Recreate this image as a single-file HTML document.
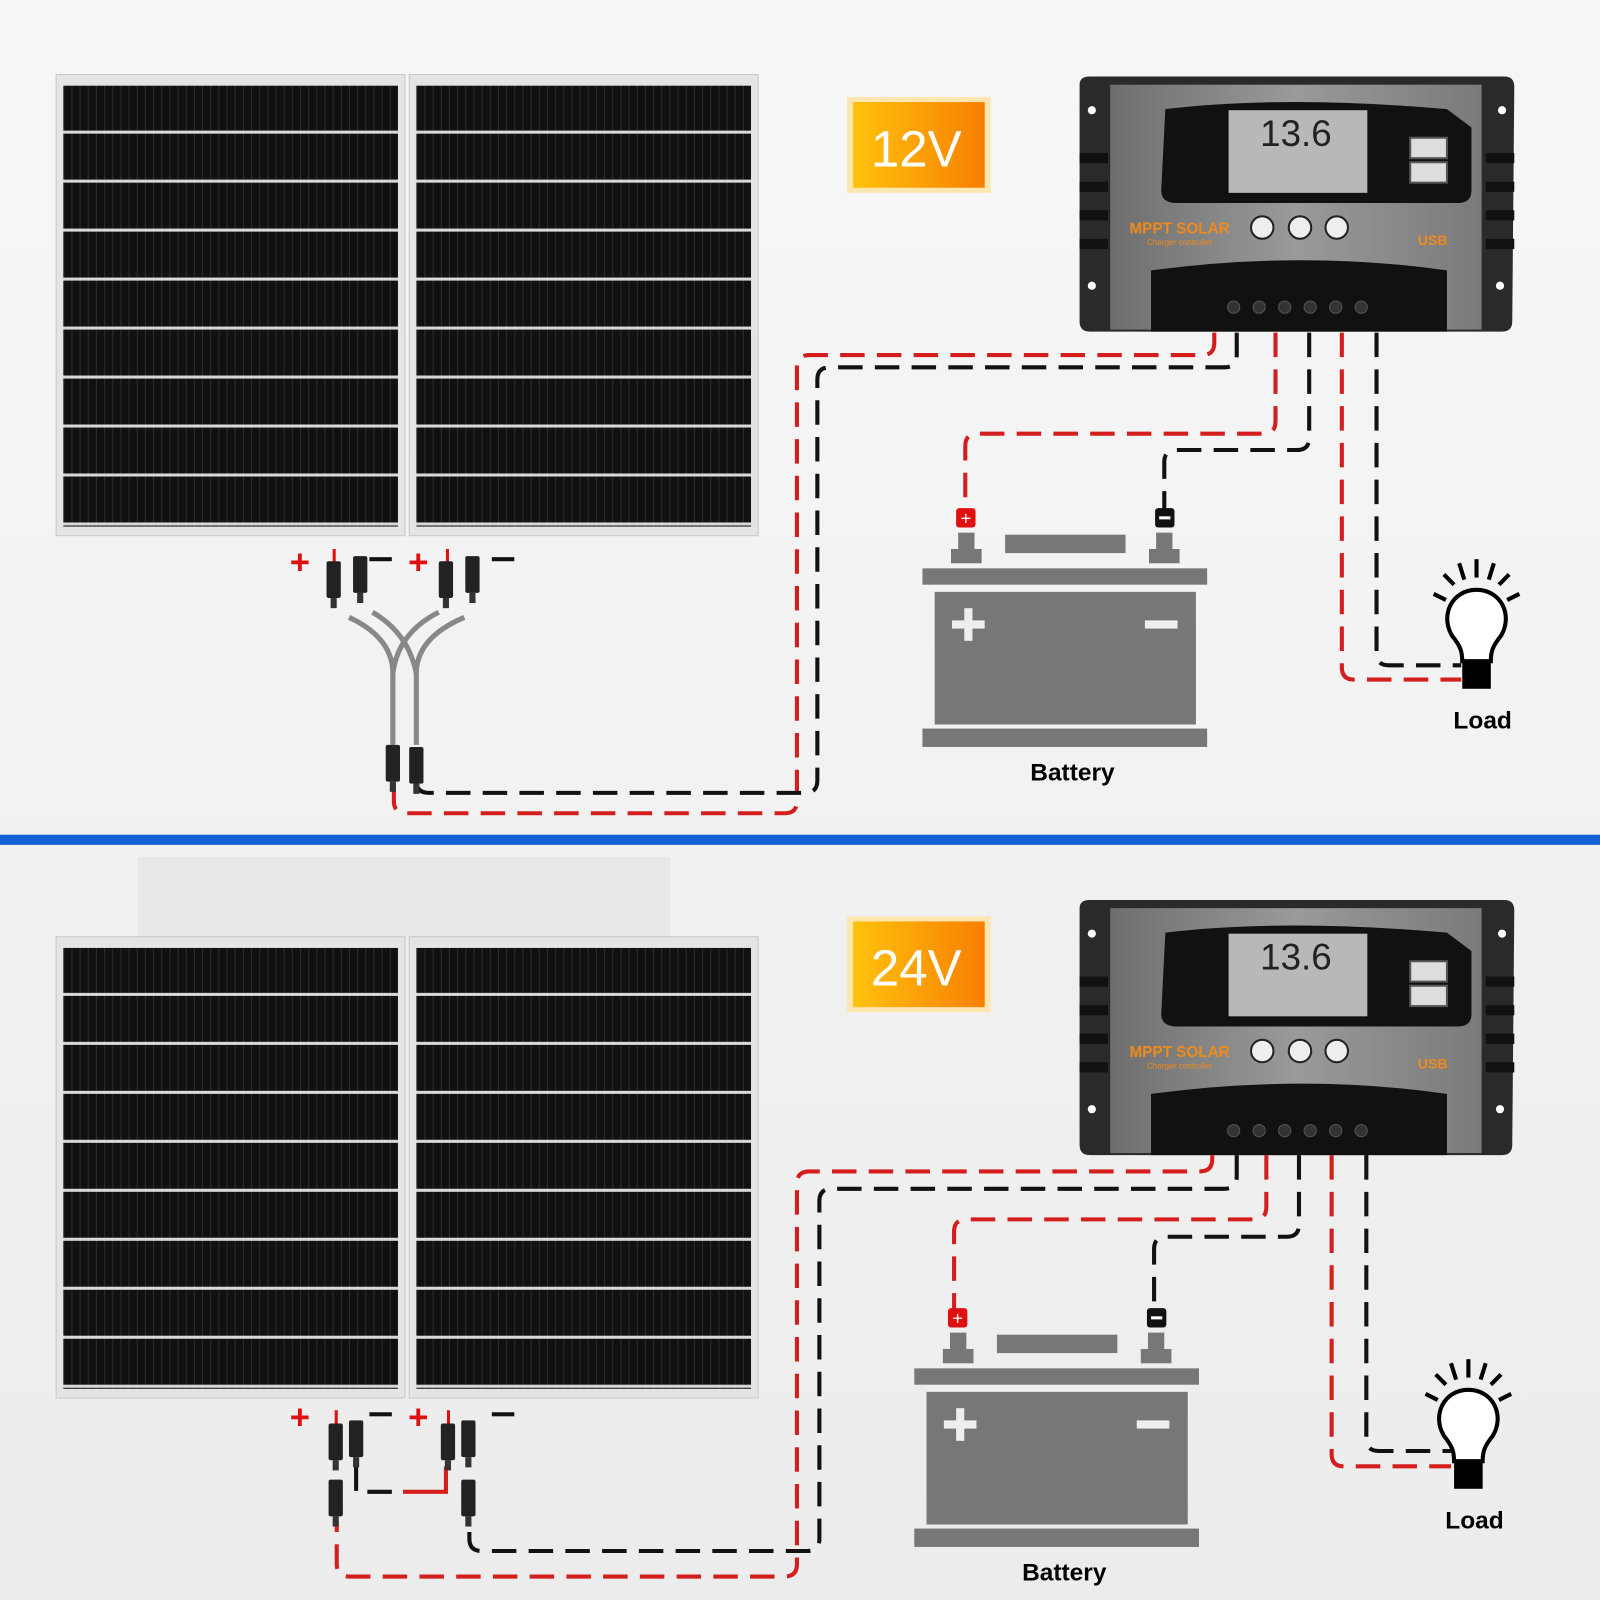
<!DOCTYPE html>
<html><head><meta charset="utf-8"><style>html,body{margin:0;padding:0;background:#f2f2f2}svg{display:block}</style></head>
<body>
<svg width="1600" height="1600" viewBox="0 0 1568 1568" xmlns="http://www.w3.org/2000/svg" font-family="Liberation Sans, sans-serif">
<defs>
<linearGradient id="bg" x1="0" y1="0" x2="0" y2="1"><stop offset="0" stop-color="#f7f7f7"/><stop offset="1" stop-color="#ececec"/></linearGradient>
<linearGradient id="org" x1="0" y1="0" x2="1" y2="0"><stop offset="0" stop-color="#ffc20e"/><stop offset="1" stop-color="#f77f00"/></linearGradient>
<linearGradient id="face" x1="0" y1="0" x2="1" y2="0"><stop offset="0" stop-color="#6e6e6e"/><stop offset="0.5" stop-color="#9a9a9a"/><stop offset="1" stop-color="#7a7a7a"/></linearGradient>
<pattern id="cells" x="0" y="10" width="8" height="48" patternUnits="userSpaceOnUse">
<rect width="8" height="48" fill="#111"/><rect x="7" width="1" height="48" fill="#2c2c2c"/><rect y="45" width="8" height="3" fill="#d8d8d8"/></pattern>
<g id="panel">
<rect x="0" y="0" width="342" height="452" fill="#e4e4e4" stroke="#c8c8c8"/>
<rect x="7" y="11" width="328" height="432" fill="url(#cells)"/>
</g>
<g id="ctrl">
<path d="M0 8 Q0 0 10 0 L416 0 Q426 0 426 10 L424 240 Q424 250 414 250 L10 250 Q0 250 0 240Z" fill="#2a2a2a"/>
<rect x="30" y="8" width="364" height="240" fill="url(#face)"/>
<path d="M84 32 Q200 18 360 32 L384 50 L384 112 Q384 124 370 124 L96 124 Q80 124 80 112Z" fill="#111"/>
<rect x="146" y="33" width="136" height="81" fill="#b8b8b8"/>
<rect x="324" y="60" width="36" height="20" fill="#ddd" stroke="#555" stroke-width="2"/>
<rect x="324" y="84" width="36" height="20" fill="#ddd" stroke="#555" stroke-width="2"/>
<path d="M70 190 Q220 170 360 190 L360 250 L70 250Z" fill="#111"/>
<circle cx="179" cy="148" r="11" fill="#eee" stroke="#222" stroke-width="2"/>
<circle cx="216" cy="148" r="11" fill="#eee" stroke="#222" stroke-width="2"/>
<circle cx="252" cy="148" r="11" fill="#eee" stroke="#222" stroke-width="2"/>
<g fill="#333" stroke="#555"><circle cx="151" cy="226" r="6"/><circle cx="176" cy="226" r="6"/><circle cx="201" cy="226" r="6"/><circle cx="226" cy="226" r="6"/><circle cx="251" cy="226" r="6"/><circle cx="276" cy="226" r="6"/></g>
<circle cx="12" cy="33" r="4" fill="#fff"/><circle cx="414" cy="33" r="4" fill="#fff"/><circle cx="12" cy="205" r="4" fill="#fff"/><circle cx="412" cy="205" r="4" fill="#fff"/>
<g fill="#111"><rect x="0" y="75" width="28" height="10"/><rect x="0" y="103" width="28" height="10"/><rect x="0" y="131" width="28" height="10"/><rect x="0" y="159" width="28" height="10"/><rect x="398" y="75" width="28" height="10"/><rect x="398" y="103" width="28" height="10"/><rect x="398" y="131" width="28" height="10"/><rect x="398" y="159" width="28" height="10"/></g>
</g>
<g id="batt">
<rect x="28" y="-12" width="30" height="14" fill="#777"/><rect x="35" y="-28" width="16" height="18" fill="#777"/>
<rect x="222" y="-12" width="30" height="14" fill="#777"/><rect x="229" y="-28" width="16" height="18" fill="#777"/>
<rect x="81" y="-26" width="118" height="18" fill="#777"/>
<rect x="0" y="7" width="279" height="16" fill="#777"/>
<rect x="12" y="30" width="256" height="130" fill="#777"/>
<rect x="0" y="164" width="279" height="18" fill="#777"/>
<rect x="29" y="58" width="32" height="8" fill="#eee"/><rect x="41" y="46" width="8" height="32" fill="#eee"/>
<rect x="218" y="58" width="32" height="8" fill="#eee"/>
</g>
<g id="bulb">
<path d="M0 0 C-24 0 -36 25 -24 45 C-16 55 -14 60 -14 70 L14 70 C14 60 16 55 24 45 C36 25 24 0 0 0Z" fill="#fff" stroke="#000" stroke-width="4"/>
<rect x="-14" y="70" width="28" height="27" fill="#000"/>
<g stroke="#000" stroke-width="4"><line x1="0" y1="-30" x2="0" y2="-12"/><line x1="-17" y1="-26" x2="-12" y2="-10"/><line x1="17" y1="-26" x2="12" y2="-10"/><line x1="-32" y1="-15" x2="-22" y2="-5"/><line x1="32" y1="-15" x2="22" y2="-5"/><line x1="-42" y1="4" x2="-30" y2="10"/><line x1="42" y1="4" x2="30" y2="10"/></g>
</g>
<g id="mc4"><rect x="-7" y="0" width="14" height="36" rx="2" fill="#222"/><rect x="-3" y="36" width="6" height="10" fill="#333"/></g>
</defs>
<rect width="1568" height="1568" fill="url(#bg)"/>
<rect x="0" y="818" width="1568" height="10" fill="#1262d6"/>

<!-- TOP -->
<use href="#panel" x="55" y="73"/><use href="#panel" x="401" y="73"/>
<rect x="830" y="95" width="141" height="94" fill="#fde6b0"/><rect x="836" y="100" width="129" height="84" fill="url(#org)"/>
<text x="898" y="163" font-size="50" fill="#fff" text-anchor="middle">12V</text>
<use href="#ctrl" x="1058" y="75"/>
<text x="1156" y="229" font-size="15" font-weight="bold" fill="#f08a1c" text-anchor="middle">MPPT SOLAR</text>
<text x="1156" y="240" font-size="8" fill="#f08a1c" text-anchor="middle">Charger controller</text>
<text x="1270" y="143" font-size="36" fill="#222" text-anchor="middle">13.6</text>
<text x="1404" y="240" font-size="14" font-weight="bold" fill="#f08a1c" text-anchor="middle">USB</text>
<g fill="none" stroke-width="4" stroke-dasharray="24 12">
<path d="M1190 326 V336 Q1190 348 1178 348 H793 Q781 348 781 360 V785 Q781 797 769 797 H398 Q386 797 386 785 V762" stroke="#d41e1e"/>
<path d="M1212 326 V348 Q1212 360 1200 360 H813 Q801 360 801 372 V765 Q801 777 789 777 H420 Q408 777 408 765 V762" stroke="#111"/>
<path d="M1250 326 V413 Q1250 425 1238 425 H958 Q946 425 946 437 V500" stroke="#d41e1e"/>
<path d="M1283 326 V429 Q1283 441 1271 441 H1153 Q1141 441 1141 453 V500" stroke="#111"/>
<path d="M1315 326 V654 Q1315 666 1327 666 H1432" stroke="#d41e1e"/>
<path d="M1349 326 V640 Q1349 652 1361 652 H1432" stroke="#111"/>
</g>
<rect x="937" y="498" width="19" height="19" rx="3" fill="#e01010"/><text x="946.5" y="514" font-size="18" fill="#fff" text-anchor="middle">+</text>
<rect x="1132" y="498" width="19" height="19" rx="3" fill="#111"/><rect x="1136" y="506" width="11" height="3" fill="#fff"/>
<use href="#batt" x="904" y="550"/>
<text x="1051" y="765" font-size="24" font-weight="bold" text-anchor="middle">Battery</text>
<use href="#bulb" x="1447" y="578"/>
<text x="1453" y="714" font-size="24" font-weight="bold" text-anchor="middle">Load</text>
<g font-size="34" font-weight="bold" fill="#e01010"><text x="284" y="562">+</text><text x="400" y="562">+</text></g>
<g fill="#111"><rect x="362" y="546" width="22" height="4"/><rect x="482" y="546" width="22" height="4"/></g>
<rect x="326" y="538" width="3" height="14" fill="#e01010"/><rect x="437" y="538" width="3" height="14" fill="#e01010"/>
<use href="#mc4" x="327" y="550"/><use href="#mc4" x="353" y="545"/><use href="#mc4" x="437" y="550"/><use href="#mc4" x="463" y="545"/>
<g stroke="#888" stroke-width="5" fill="none"><path d="M342 605 Q385 625 385 660 V730"/><path d="M365 600 Q400 620 408 660"/><path d="M430 600 Q390 620 385 660"/><path d="M455 605 Q408 625 408 660 V730"/></g>
<use href="#mc4" x="385" y="730"/><use href="#mc4" x="408" y="732"/>

<!-- BOTTOM -->
<rect x="135" y="840" width="522" height="80" fill="#e8e8e8"/>
<use href="#panel" x="55" y="918"/><use href="#panel" x="401" y="918"/>
<rect x="830" y="898" width="141" height="94" fill="#fde6b0"/><rect x="836" y="903" width="129" height="84" fill="url(#org)"/>
<text x="898" y="966" font-size="50" fill="#fff" text-anchor="middle">24V</text>
<use href="#ctrl" x="1058" y="882"/>
<text x="1156" y="1036" font-size="15" font-weight="bold" fill="#f08a1c" text-anchor="middle">MPPT SOLAR</text>
<text x="1156" y="1047" font-size="8" fill="#f08a1c" text-anchor="middle">Charger controller</text>
<text x="1270" y="950" font-size="36" fill="#222" text-anchor="middle">13.6</text>
<text x="1404" y="1047" font-size="14" font-weight="bold" fill="#f08a1c" text-anchor="middle">USB</text>
<g fill="none" stroke-width="4" stroke-dasharray="24 12">
<path d="M1188 1132 V1136 Q1188 1148 1176 1148 H793 Q781 1148 781 1160 V1533 Q781 1545 769 1545 H342 Q330 1545 330 1533 V1490" stroke="#d41e1e"/>
<path d="M1212 1132 V1153 Q1212 1165 1200 1165 H815 Q803 1165 803 1177 V1508 Q803 1520 791 1520 H472 Q460 1520 460 1508 V1490" stroke="#111"/>
<path d="M1241 1132 V1183 Q1241 1195 1229 1195 H947 Q935 1195 935 1207 V1285" stroke="#d41e1e"/>
<path d="M1273 1132 V1200 Q1273 1212 1261 1212 H1143 Q1131 1212 1131 1224 V1285" stroke="#111"/>
<path d="M1305 1132 V1425 Q1305 1437 1317 1437 H1422" stroke="#d41e1e"/>
<path d="M1339 1132 V1410 Q1339 1422 1351 1422 H1422" stroke="#111"/>
</g>
<path d="M349 1437 V1462 H395" stroke="#111" stroke-width="4" fill="none" stroke-dasharray="24 12"/>
<path d="M395 1462 H437 V1437" stroke="#d41e1e" stroke-width="4" fill="none"/>
<rect x="929" y="1282" width="19" height="19" rx="3" fill="#e01010"/><text x="938.5" y="1298" font-size="18" fill="#fff" text-anchor="middle">+</text>
<rect x="1124" y="1282" width="19" height="19" rx="3" fill="#111"/><rect x="1128" y="1290" width="11" height="3" fill="#fff"/>
<use href="#batt" x="896" y="1334"/>
<text x="1043" y="1549" font-size="24" font-weight="bold" text-anchor="middle">Battery</text>
<use href="#bulb" x="1439" y="1362"/>
<text x="1445" y="1498" font-size="24" font-weight="bold" text-anchor="middle">Load</text>
<g font-size="34" font-weight="bold" fill="#e01010"><text x="284" y="1400">+</text><text x="400" y="1400">+</text></g>
<g fill="#111"><rect x="362" y="1384" width="22" height="4"/><rect x="482" y="1384" width="22" height="4"/></g>
<rect x="328" y="1382" width="3" height="14" fill="#e01010"/><rect x="438" y="1382" width="3" height="14" fill="#e01010"/>
<use href="#mc4" x="329" y="1395"/><use href="#mc4" x="349" y="1392"/><use href="#mc4" x="439" y="1395"/><use href="#mc4" x="459" y="1392"/>
<use href="#mc4" x="329" y="1450"/><use href="#mc4" x="459" y="1450"/>
</svg>
</body></html>
